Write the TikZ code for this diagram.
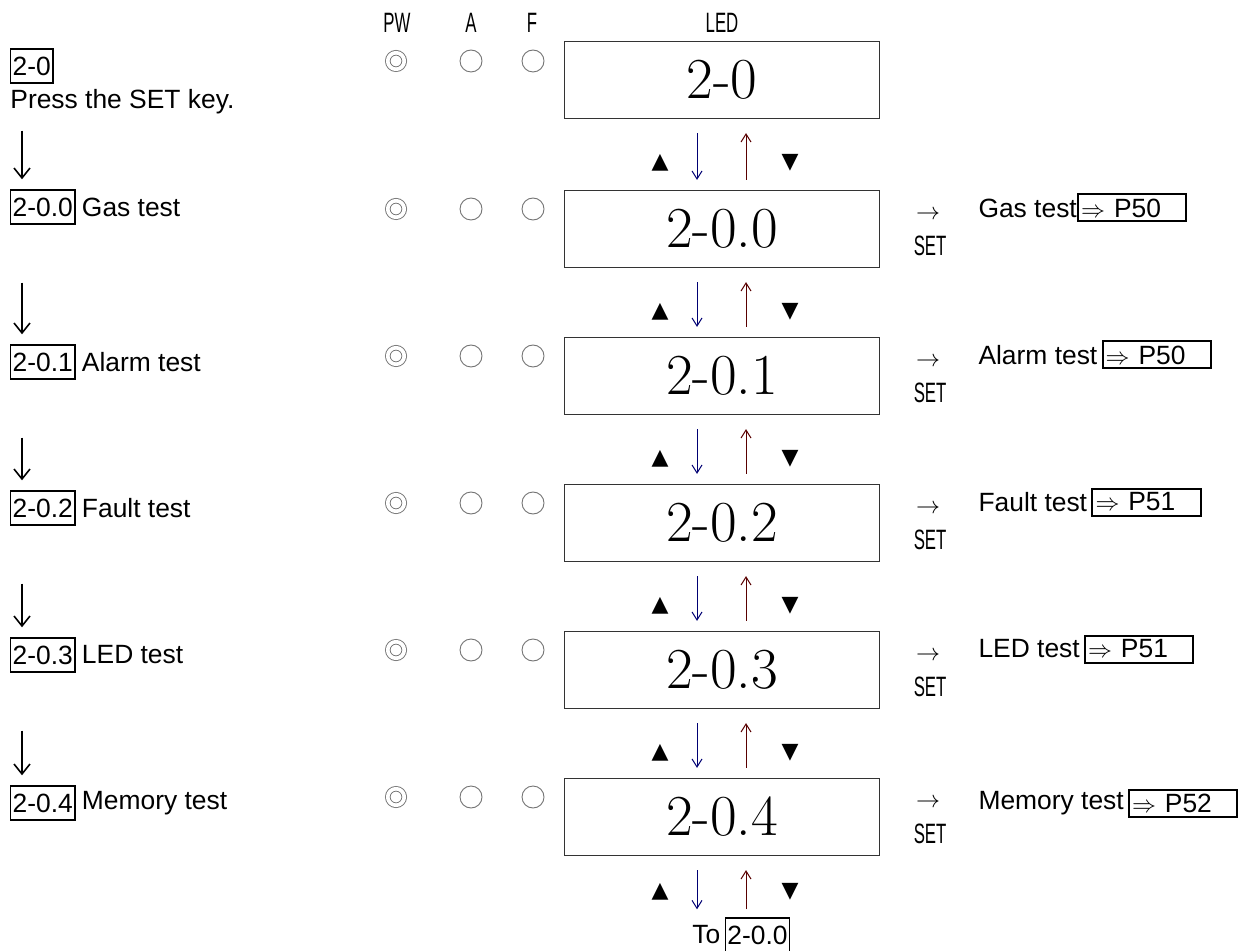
\documentclass[tikz,border=0pt]{standalone}
\usepackage{fontspec}
\newfontfamily\arialfont{Liberation Sans}
\newfontfamily\narrowfont{Liberation Sans}[FakeStretch=0.6]
\newfontfamily\trifont{DejaVu Sans}
\usetikzlibrary{positioning, arrows.meta}

\begin{document}
\begin{tikzpicture}[
    x=0.5pt, y=-0.5pt,
    txt/.style={font=\arialfont\fontsize{13.2}{15}\selectfont, inner sep=0pt, anchor=west},
    key/.style={txt, draw, line width=0.7pt, inner xsep=1pt, minimum height=17pt},
    hdr/.style={font=\narrowfont\fontsize{14}{15}\selectfont, inner sep=0pt},
    led/.style={rectangle, draw=black!80, line width=0.6pt, minimum width=157.5pt, minimum height=38.5pt, font=\fontsize{29}{31}\selectfont},
    lamp/.style={circle, draw=black!55, line width=0.45pt, minimum size=11pt, inner sep=0pt},
    pwlamp/.style={lamp, minimum size=8.25pt, double, double distance=1.85pt},
    page/.style={txt, draw, line width=1pt, text width=51pt, align=left, minimum height=13.5pt, inner xsep=1.5pt},
    tri/.style={font=\trifont\fontsize{11}{12}\selectfont, inner sep=0pt},
    flow/.style={-{Straight Barb[length=5pt, width=8pt]}, line width=0.8pt, shorten >=5pt},
    dn/.style={-{Straight Barb[length=4pt, width=5pt]}, draw=blue!45!black, line width=0.5pt, shorten <=7pt, shorten >=5pt},
    up/.style={-{Straight Barb[length=4pt, width=5pt]}, draw=red!35!black, line width=0.5pt, shorten <=5pt, shorten >=7pt}
]
    \useasboundingbox (0,0) rectangle (1245,951);

    % Header
    \node[hdr] (hpw) at (397,23) {PW};
    \node[hdr] (ha) at (471,23) {A};
    \node[hdr] (hf) at (532,23) {F};
    \node[hdr] (hled) at (722,23) {LED};

    % LED displays
    \node[led] (led0) at (722,80) {2-0};
    \node[led] (led1) at (722,229) {2-0.0};
    \node[led] (led2) at (722,376) {2-0.1};
    \node[led] (led3) at (722,523) {2-0.2};
    \node[led] (led4) at (722,670) {2-0.3};
    \node[led] (led5) at (722,817) {2-0.4};

    % Lamps
    \node[pwlamp] (pw0) at (396,61) {}; \node[lamp] (a0) at (471,61) {}; \node[lamp] (f0) at (533,61) {};
    \node[pwlamp] (pw1) at (396,209) {}; \node[lamp] (a1) at (471,209) {}; \node[lamp] (f1) at (533,209) {};
    \node[pwlamp] (pw2) at (396,356) {}; \node[lamp] (a2) at (471,356) {}; \node[lamp] (f2) at (533,356) {};
    \node[pwlamp] (pw3) at (396,503) {}; \node[lamp] (a3) at (471,503) {}; \node[lamp] (f3) at (533,503) {};
    \node[pwlamp] (pw4) at (396,650) {}; \node[lamp] (a4) at (471,650) {}; \node[lamp] (f4) at (533,650) {};
    \node[pwlamp] (pw5) at (396,797) {}; \node[lamp] (a5) at (471,797) {}; \node[lamp] (f5) at (533,797) {};

    % Left steps
    \node[key] (k0) at (10,66) {2-0};
    \node[txt] (press) at (10,102) {Press the SET key.};
    \node[key] (k1) at (10,207) {2-0.0};
    \node[txt, right=3pt of k1] (s1) {Gas test};
    \node[key] (k2) at (10,362) {2-0.1};
    \node[txt, right=3pt of k2] (s2) {Alarm test};
    \node[key] (k3) at (10,508) {2-0.2};
    \node[txt, right=3pt of k3] (s3) {Fault test};
    \node[key] (k4) at (10,655) {2-0.3};
    \node[txt, right=3pt of k4] (s4) {LED test};
    \node[key] (k5) at (10,803) {2-0.4};
    \node[txt, right=3pt of k5] (s5) {Memory test};

    \draw[flow, shorten <=8pt] ([xshift=6pt]press.south west) -- ([xshift=6pt]k1.north west);
    \draw[flow, shorten <=29pt] ([xshift=6pt]k1.south west) -- ([xshift=6pt]k2.north west);
    \draw[flow, shorten <=29pt] ([xshift=6pt]k2.south west) -- ([xshift=6pt]k3.north west);
    \draw[flow, shorten <=29pt] ([xshift=6pt]k3.south west) -- ([xshift=6pt]k4.north west);
    \draw[flow, shorten <=29pt] ([xshift=6pt]k4.south west) -- ([xshift=6pt]k5.north west);

    % Key arrows between displays
    \draw[dn] ([xshift=-12.5pt]led0.south) -- ([xshift=-12.5pt]led1.north);
    \draw[up] ([xshift=12pt]led1.north) -- ([xshift=12pt]led0.south);
    \node[tri] (tu0) at ([xshift=-31pt,yshift=-22pt]led0.south) {▲};
    \node[tri] (td0) at ([xshift=34pt,yshift=-22pt]led0.south) {▼};

    \draw[dn] ([xshift=-12.5pt]led1.south) -- ([xshift=-12.5pt]led2.north);
    \draw[up] ([xshift=12pt]led2.north) -- ([xshift=12pt]led1.south);
    \node[tri] (tu1) at ([xshift=-31pt,yshift=-22pt]led1.south) {▲};
    \node[tri] (td1) at ([xshift=34pt,yshift=-22pt]led1.south) {▼};

    \draw[dn] ([xshift=-12.5pt]led2.south) -- ([xshift=-12.5pt]led3.north);
    \draw[up] ([xshift=12pt]led3.north) -- ([xshift=12pt]led2.south);
    \node[tri] (tu2) at ([xshift=-31pt,yshift=-22pt]led2.south) {▲};
    \node[tri] (td2) at ([xshift=34pt,yshift=-22pt]led2.south) {▼};

    \draw[dn] ([xshift=-12.5pt]led3.south) -- ([xshift=-12.5pt]led4.north);
    \draw[up] ([xshift=12pt]led4.north) -- ([xshift=12pt]led3.south);
    \node[tri] (tu3) at ([xshift=-31pt,yshift=-22pt]led3.south) {▲};
    \node[tri] (td3) at ([xshift=34pt,yshift=-22pt]led3.south) {▼};

    \draw[dn] ([xshift=-12.5pt]led4.south) -- ([xshift=-12.5pt]led5.north);
    \draw[up] ([xshift=12pt]led5.north) -- ([xshift=12pt]led4.south);
    \node[tri] (tu4) at ([xshift=-31pt,yshift=-22pt]led4.south) {▲};
    \node[tri] (td4) at ([xshift=34pt,yshift=-22pt]led4.south) {▼};

    % Back to the first test
    \node[txt] (tolbl) at (692,935) {To};
    \node[key, right=2pt of tolbl] (k6) {2-0.0};
    \draw[dn, shorten >=4pt] ([xshift=-12.5pt]led5.south) -- ([xshift=-12.5pt]led5.south |- k6.north);
    \draw[up, shorten <=4pt] ([xshift=12pt]led5.south |- k6.north) -- ([xshift=12pt]led5.south);
    \node[tri] (tu5) at ([xshift=-31pt,yshift=-18pt]led5.south) {▲};
    \node[tri] (td5) at ([xshift=34pt,yshift=-18pt]led5.south) {▼};

    % SET key and target pages
    \node[txt, anchor=center] (go1) at ([xshift=24pt,yshift=7pt]led1.east) {$\rightarrow$};
    \node[hdr] (set1) at ([xshift=25pt,yshift=-8.5pt]led1.east) {SET};
    \node[txt] (r1) at ([xshift=49pt,yshift=10.5pt]led1.east) {Gas test};
    \node[page, right=0pt of r1] (p1) {$\Rightarrow$ P50};

    \node[txt, anchor=center] (go2) at ([xshift=24pt,yshift=7pt]led2.east) {$\rightarrow$};
    \node[hdr] (set2) at ([xshift=25pt,yshift=-8.5pt]led2.east) {SET};
    \node[txt] (r2) at ([xshift=49pt,yshift=10.5pt]led2.east) {Alarm test};
    \node[page, right=2pt of r2] (p2) {$\Rightarrow$ P50};

    \node[txt, anchor=center] (go3) at ([xshift=24pt,yshift=7pt]led3.east) {$\rightarrow$};
    \node[hdr] (set3) at ([xshift=25pt,yshift=-8.5pt]led3.east) {SET};
    \node[txt] (r3) at ([xshift=49pt,yshift=10.5pt]led3.east) {Fault test};
    \node[page, right=2pt of r3] (p3) {$\Rightarrow$ P51};

    \node[txt, anchor=center] (go4) at ([xshift=24pt,yshift=7pt]led4.east) {$\rightarrow$};
    \node[hdr] (set4) at ([xshift=25pt,yshift=-8.5pt]led4.east) {SET};
    \node[txt] (r4) at ([xshift=49pt,yshift=10.5pt]led4.east) {LED test};
    \node[page, right=2pt of r4] (p4) {$\Rightarrow$ P51};

    \node[txt, anchor=center] (go5) at ([xshift=24pt,yshift=7pt]led5.east) {$\rightarrow$};
    \node[hdr] (set5) at ([xshift=25pt,yshift=-8.5pt]led5.east) {SET};
    \node[txt] (r5) at ([xshift=49pt,yshift=7pt]led5.east) {Memory test};
    \node[page, right=2pt of r5] (p5) {$\Rightarrow$ P52};
\end{tikzpicture}
\end{document}
